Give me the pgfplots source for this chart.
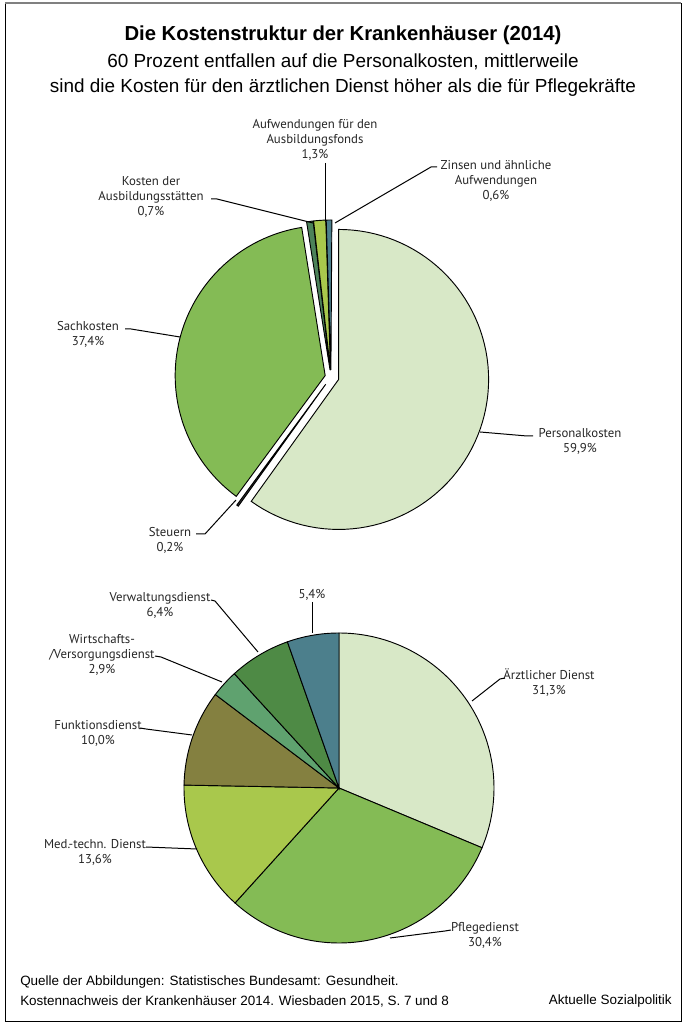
\documentclass[border=0pt]{standalone}
\usepackage{pgfplots}
\pgfplotsset{compat=1.18}
\usepackage{fontspec}
\setmainfont{Liberation Sans}
\newfontfamily\labelfont{PT Sans}

\definecolor{hell}{HTML}{D8E8C7}
\definecolor{mittel}{HTML}{84BB55}
\definecolor{gelbgruen}{HTML}{A9C84C}
\definecolor{oliv}{HTML}{848040}
\definecolor{tuerkisgruen}{HTML}{5FA26F}
\definecolor{dunkelgruen}{HTML}{4E8A45}
\definecolor{petrol}{HTML}{4C7F8C}
\definecolor{textgrau}{HTML}{262626}

% one pie slice: centre x, centre y, radius, from %, to %, explode, colour
\newcommand{\slice}[7]{%
  \addplot[draw=black, line width=0.7pt, fill=#7, domain=#4:#5, samples=80, variable=\t]
    ({#1+#6*cos(90-1.8*(#4+#5))+#3*cos(90-3.6*\t)},
     {#2+#6*sin(90-1.8*(#4+#5))+#3*sin(90-3.6*\t)})
    -- (axis cs:{#1+#6*cos(90-1.8*(#4+#5))},{#2+#6*sin(90-1.8*(#4+#5))}) -- cycle;
}

\tikzset{lbl/.style={font=\labelfont\fontsize{9.6}{11.2}\selectfont, text=textgrau, align=center, inner sep=0pt},
         lead/.style={draw=black, line width=0.75pt}}

\begin{document}
\begin{tikzpicture}
\begin{axis}[
    x=0.75pt, y=0.75pt,
    xmin=0, xmax=686, ymin=0, ymax=1024,
    hide axis, clip=false,
  ]
  % page and frame
  \fill[white] (axis cs:0,0) rectangle (axis cs:686,1024);
  \draw[black, line width=0.6pt] (axis cs:5,3) rectangle (axis cs:681,1021);
  \draw[gray, line width=1.5pt] (axis cs:5,1021) -- (axis cs:681,1021);

  % titles
  \node[font=\bfseries\fontsize{15.2}{18}\selectfont] at (axis cs:343,989) {Die Kostenstruktur der Krankenhäuser (2014)};
  \node[font=\fontsize{14.2}{17}\selectfont] at (axis cs:343,962) {60 Prozent entfallen auf die Personalkosten, mittlerweile};
  \node[font=\fontsize{14.2}{17}\selectfont] at (axis cs:343,936) {sind die Kosten für den ärztlichen Dienst höher als die für Pflegekräfte};

  % upper pie: cost structure (percent)
  \slice{331}{647}{150}{0}{59.9}{8}{hell}
  \slice{331}{647}{150}{59.9}{60.1}{9}{black!80}
  \slice{331}{647}{150}{60.1}{97.5}{6}{mittel}
  \slice{331}{647}{150}{97.5}{98.2}{7}{tuerkisgruen!80!black}
  \slice{331}{647}{150}{98.2}{99.5}{7}{gelbgruen}
  \slice{331}{647}{150}{99.5}{100.1}{7}{petrol}

  % lower pie: personnel costs (percent)
  \slice{339}{236}{155}{0}{31.3}{0}{hell}
  \slice{339}{236}{155}{31.3}{61.7}{0}{mittel}
  \slice{339}{236}{155}{61.7}{75.3}{0}{gelbgruen}
  \slice{339}{236}{155}{75.3}{85.3}{0}{oliv}
  \slice{339}{236}{155}{85.3}{88.2}{0}{tuerkisgruen}
  \slice{339}{236}{155}{88.2}{94.6}{0}{dunkelgruen}
  \slice{339}{236}{155}{94.6}{100}{0}{petrol}

  % upper labels
  \node[lbl] at (axis cs:315,884) {Aufwendungen für den\\Ausbildungsfonds\\1,3\%};
  \draw[lead] (axis cs:325,861) -- (axis cs:325,802);
  \node[lbl] at (axis cs:496,843) {Zinsen und ähnliche\\Aufwendungen\\0,6\%};
  \draw[lead] (axis cs:437,857) -- (axis cs:431,857) -- (axis cs:335,801);
  \node[lbl] at (axis cs:151,827) {Kosten der\\Ausbildungsstätten\\0,7\%};
  \draw[lead] (axis cs:211,825) -- (axis cs:217,825) -- (axis cs:313,801);
  \node[lbl] at (axis cs:88,690) {Sachkosten\\37,4\%};
  \draw[lead] (axis cs:125,695) -- (axis cs:131,695) -- (axis cs:180,687);
  \node[lbl] at (axis cs:170,484) {Steuern\\0,2\%};
  \draw[lead] (axis cs:196,490) -- (axis cs:205,490) -- (axis cs:236,524);
  \node[lbl] at (axis cs:580,583) {Personalkosten\\59,9\%};
  \draw[lead] (axis cs:533,588) -- (axis cs:527,588) -- (axis cs:480,592);

  % lower labels
  \node[lbl] at (axis cs:160,419) {Verwaltungsdienst\\6,4\%};
  \draw[lead] (axis cs:211,424) -- (axis cs:215,423) -- (axis cs:258,372);
  \node[lbl] at (axis cs:312,429) {5,4\%};
  \draw[lead] (axis cs:312,422) -- (axis cs:312,391);
  \node[lbl] at (axis cs:102,369) {Wirtschafts-\\/Versorgungsdienst\\2,9\%};
  \draw[lead] (axis cs:155,368) -- (axis cs:161,367) -- (axis cs:222,342);
  \node[lbl] at (axis cs:98,291) {Funktionsdienst\\10,0\%};
  \draw[lead] (axis cs:140,296) -- (axis cs:146,295) -- (axis cs:192,289);
  \node[lbl] at (axis cs:95,172) {Med.-techn. Dienst\\13,6\%};
  \draw[lead] (axis cs:146,177) -- (axis cs:197,175);
  \node[lbl] at (axis cs:549,341) {Ärztlicher Dienst\\31,3\%};
  \draw[lead] (axis cs:505,346) -- (axis cs:500,345) -- (axis cs:472,323);
  \node[lbl] at (axis cs:485,89) {Pflegedienst\\30,4\%};
  \draw[lead] (axis cs:451,94) -- (axis cs:445,93) -- (axis cs:390,86);

  % source line
  \node[anchor=west, font=\fontsize{10.1}{12}\selectfont, inner sep=0pt] at (axis cs:20,42) {Quelle der Abbildungen: Statistisches Bundesamt: Gesundheit.};
  \node[anchor=west, font=\fontsize{10.1}{12}\selectfont, inner sep=0pt] at (axis cs:20,23) {Kostennachweis der Krankenhäuser 2014. Wiesbaden 2015, S. 7 und 8};
  \node[anchor=east, font=\fontsize{10.1}{12}\selectfont, inner sep=0pt] at (axis cs:672,23) {Aktuelle Sozialpolitik};
\end{axis}
\end{tikzpicture}
\end{document}
